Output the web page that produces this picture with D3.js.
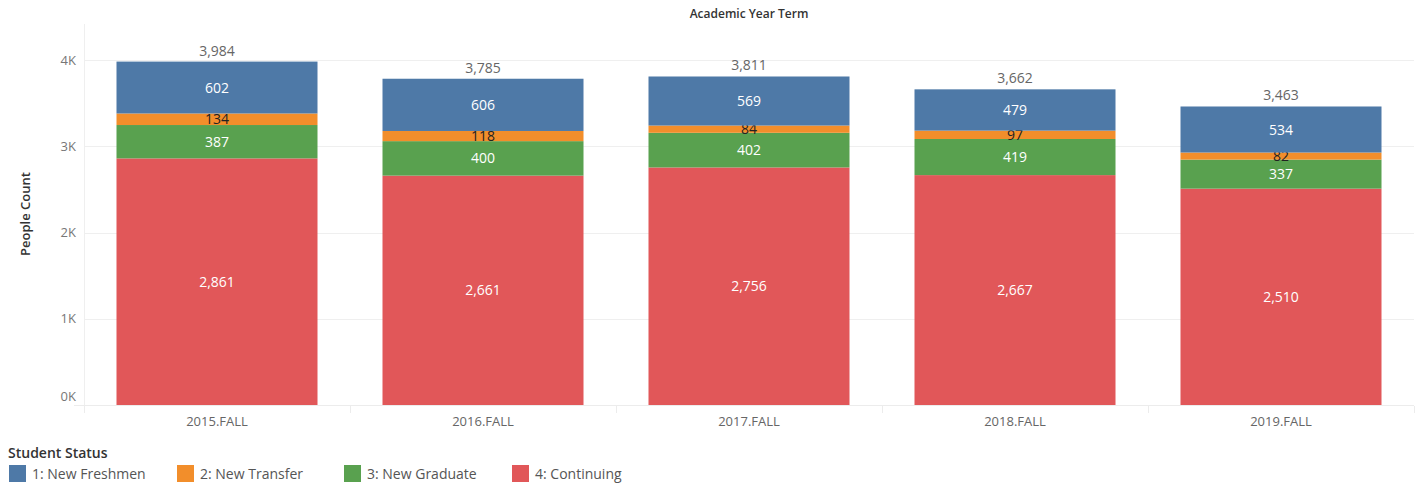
<!DOCTYPE html>
<html><head><meta charset="utf-8">
<script src="https://cdn.jsdelivr.net/npm/d3@7"></script>
<style>body{margin:0;background:#fff;} text{font-family:"Open Sans","Noto Sans",sans-serif;}</style>
</head><body><svg id="c" width="1418" height="487"></svg>
<script>
const terms = ["2015.FALL","2016.FALL","2017.FALL","2018.FALL","2019.FALL"];
const statuses = ["1: New Freshmen","2: New Transfer","3: New Graduate","4: Continuing"];
const freshmen = [602,606,569,479,534];
const transfer = [134,118,84,97,82];
const graduate = [387,400,402,419,337];
const continuing = [2861,2661,2756,2667,2510];
const totals = [3984,3785,3811,3662,3463];
const yTicks = [0,1000,2000,3000,4000];
const colors = ["#4e79a7","#f28e2b","#59a14f","#e15759"];
const labelColors = ["#fff","#222","#fff","#fff"];

const svg = d3.select("#c");
const L=84, R=1414, T=24, B=405;
const x = d3.scaleBand().domain(terms).range([L,R]).paddingInner(0).paddingOuter(0);
const y = d3.scaleLinear().domain([0,4420]).range([B,T]);

const rows = terms.map((t,i)=>({term:t,"1: New Freshmen":freshmen[i],"2: New Transfer":transfer[i],"3: New Graduate":graduate[i],"4: Continuing":continuing[i]}));
const stack = d3.stack().keys(statuses.slice().reverse())(rows);

// grid
svg.append("g").selectAll("line").data(yTicks.slice(1)).join("line")
  .attr("x1",L).attr("x2",R).attr("y1",d=>Math.round(y(d))+0.5).attr("y2",d=>Math.round(y(d))+0.5)
  .attr("stroke","#efefef");
svg.append("line").attr("x1",L+0.5).attr("x2",L+0.5).attr("y1",T).attr("y2",B).attr("stroke","#efefef");
svg.append("g").selectAll("line").data(terms.map((t)=>x(t)).concat([R])).join("line")
  .attr("x1",d=>d+0.5).attr("x2",d=>d+0.5).attr("y1",B+1).attr("y2",B+8).attr("stroke","#ececec");
svg.append("line").attr("x1",L-10).attr("x2",R).attr("y1",B+0.5).attr("y2",B+0.5).attr("stroke","#ececec");

const bw = 201;
const off = (x.bandwidth()-bw)/2;
stack.forEach(layer=>{
  const k = statuses.indexOf(layer.key);
  const g = svg.append("g");
  g.selectAll("rect").data(layer).join("rect")
    .attr("x",d=>x(d.data.term)+off).attr("width",bw)
    .attr("y",d=>y(d[1])).attr("height",d=>y(d[0])-y(d[1]))
    .attr("fill",colors[k]);
  g.selectAll("text").data(layer).join("text")
    .attr("x",d=>x(d.data.term)+x.bandwidth()/2)
    .attr("y",d=>(y(d[0])+y(d[1]))/2).attr("dy","0.36em")
    .attr("text-anchor","middle").attr("font-size",14).attr("fill",labelColors[k])
    .text(d=>d3.format(",")(d[1]-d[0]));
});
svg.append("g").selectAll("text").data(terms).join("text")
  .attr("x",t=>x(t)+x.bandwidth()/2).attr("y",(t,i)=>y(totals[i])-6)
  .attr("text-anchor","middle").attr("font-size",14).attr("fill","#666")
  .text((t,i)=>d3.format(",")(totals[i]));

// y axis labels
svg.append("g").selectAll("text").data(yTicks).join("text")
  .attr("x",76).attr("y",d=>d===0?y(d)-9:y(d)).attr("dy","0.36em").attr("text-anchor","end")
  .attr("font-size",13).attr("fill","#777").text(d=>(d/1000)+"K");
svg.append("text").attr("transform","translate(30,214) rotate(-90)").attr("text-anchor","middle")
  .attr("font-size",13).attr("font-weight","600").attr("fill","#333").text("People Count");

// x labels
svg.append("g").selectAll("text").data(terms).join("text")
  .attr("x",t=>x(t)+x.bandwidth()/2).attr("y",426).attr("text-anchor","middle")
  .attr("font-size",13).attr("fill","#666").text(t=>t);

svg.append("text").attr("x",749).attr("y",18).attr("text-anchor","middle")
  .attr("font-size",12).attr("font-weight","600").attr("fill","#333").text("Academic Year Term");

// legend
svg.append("text").attr("x",8).attr("y",458).attr("font-size",14).attr("font-weight","600").attr("fill","#333").text("Student Status");
const lx=[9,177,344,512];
const lg = svg.append("g").selectAll("g").data(statuses).join("g").attr("transform",(d,i)=>`translate(${lx[i]},465)`);
lg.append("rect").attr("width",17).attr("height",17).attr("fill",(d,i)=>colors[i]);
lg.append("text").attr("x",23).attr("y",9).attr("dy","0.36em").attr("font-size",14).attr("fill","#555").text(d=>d);
</script></body></html>
